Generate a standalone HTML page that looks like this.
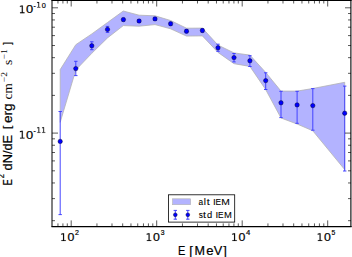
<!DOCTYPE html>
<html><head><meta charset="utf-8"><style>
html,body{margin:0;padding:0;background:#fff;width:352px;height:257px;overflow:hidden}
svg{display:block}
</style></head><body>
<svg width="352" height="257" viewBox="0 0 352 257">
<polygon points="60.2,69.6 75.8,44.7 91.8,33.9 107.5,22.5 123.3,11.0 139.1,15.2 155.0,15.8 170.6,20.5 186.5,28.2 202.4,28.1 218.0,45.1 234.0,52.9 249.9,55.1 265.7,72.4 281.0,91.1 297.1,91.1 312.8,88.5 344.7,82.3 344.7,169.6 312.8,130.8 297.1,124.0 281.0,118.0 265.7,89.6 249.9,66.4 234.0,63.7 218.0,52.4 202.4,35.9 186.5,36.1 170.6,28.8 155.0,24.6 139.1,26.2 123.3,25.6 107.5,37.9 91.8,53.3 75.8,70.0 60.2,122.3" fill="#b3b3ff" stroke="#b2b2b2" stroke-width="0.8" stroke-linejoin="round"/>
<path d="M60.20 111.50V214.60M58.50 111.50H61.90M58.50 214.60H61.90" stroke="#3c3cff" stroke-width="0.95" fill="none"/>
<path d="M75.80 61.30V75.60M74.10 61.30H77.50M74.10 75.60H77.50" stroke="#3c3cff" stroke-width="0.95" fill="none"/>
<path d="M91.80 41.80V49.70M90.10 41.80H93.50M90.10 49.70H93.50" stroke="#3c3cff" stroke-width="0.95" fill="none"/>
<path d="M107.50 26.40V32.40M105.80 26.40H109.20M105.80 32.40H109.20" stroke="#3c3cff" stroke-width="0.95" fill="none"/>
<path d="M123.40 18.00V21.20M121.70 18.00H125.10M121.70 21.20H125.10" stroke="#3c3cff" stroke-width="0.95" fill="none"/>
<path d="M139.10 19.50V22.50M137.40 19.50H140.80M137.40 22.50H140.80" stroke="#3c3cff" stroke-width="0.95" fill="none"/>
<path d="M155.00 17.40V20.40M153.30 17.40H156.70M153.30 20.40H156.70" stroke="#3c3cff" stroke-width="0.95" fill="none"/>
<path d="M170.60 22.30V25.30M168.90 22.30H172.30M168.90 25.30H172.30" stroke="#3c3cff" stroke-width="0.95" fill="none"/>
<path d="M186.50 29.60V32.80M184.80 29.60H188.20M184.80 32.80H188.20" stroke="#3c3cff" stroke-width="0.95" fill="none"/>
<path d="M202.40 28.90V32.10M200.70 28.90H204.10M200.70 32.10H204.10" stroke="#3c3cff" stroke-width="0.95" fill="none"/>
<path d="M218.00 44.20V51.30M216.30 44.20H219.70M216.30 51.30H219.70" stroke="#3c3cff" stroke-width="0.95" fill="none"/>
<path d="M234.00 53.50V61.90M232.30 53.50H235.70M232.30 61.90H235.70" stroke="#3c3cff" stroke-width="0.95" fill="none"/>
<path d="M249.90 55.70V66.50M248.20 55.70H251.60M248.20 66.50H251.60" stroke="#3c3cff" stroke-width="0.95" fill="none"/>
<path d="M265.70 72.80V89.50M264.00 72.80H267.40M264.00 89.50H267.40" stroke="#3c3cff" stroke-width="0.95" fill="none"/>
<path d="M281.00 91.30V117.60M279.30 91.30H282.70M279.30 117.60H282.70" stroke="#3c3cff" stroke-width="0.95" fill="none"/>
<path d="M297.10 91.30V123.30M295.40 91.30H298.80M295.40 123.30H298.80" stroke="#3c3cff" stroke-width="0.95" fill="none"/>
<path d="M312.80 88.60V130.20M311.10 88.60H314.50M311.10 130.20H314.50" stroke="#3c3cff" stroke-width="0.95" fill="none"/>
<path d="M344.70 86.10V171.00M343.00 86.10H346.40M343.00 171.00H346.40" stroke="#3c3cff" stroke-width="0.95" fill="none"/>
<circle cx="60.2" cy="141.4" r="2.2" fill="#0000ff" stroke="#000" stroke-width="0.4"/>
<circle cx="75.8" cy="68.6" r="2.2" fill="#0000ff" stroke="#000" stroke-width="0.4"/>
<circle cx="91.8" cy="45.8" r="2.2" fill="#0000ff" stroke="#000" stroke-width="0.4"/>
<circle cx="107.5" cy="29.4" r="2.2" fill="#0000ff" stroke="#000" stroke-width="0.4"/>
<circle cx="123.4" cy="19.6" r="2.2" fill="#0000ff" stroke="#000" stroke-width="0.4"/>
<circle cx="139.1" cy="21.0" r="2.2" fill="#0000ff" stroke="#000" stroke-width="0.4"/>
<circle cx="155.0" cy="18.9" r="2.2" fill="#0000ff" stroke="#000" stroke-width="0.4"/>
<circle cx="170.6" cy="23.8" r="2.2" fill="#0000ff" stroke="#000" stroke-width="0.4"/>
<circle cx="186.5" cy="31.2" r="2.2" fill="#0000ff" stroke="#000" stroke-width="0.4"/>
<circle cx="202.4" cy="30.5" r="2.2" fill="#0000ff" stroke="#000" stroke-width="0.4"/>
<circle cx="218.0" cy="47.8" r="2.2" fill="#0000ff" stroke="#000" stroke-width="0.4"/>
<circle cx="234.0" cy="57.6" r="2.2" fill="#0000ff" stroke="#000" stroke-width="0.4"/>
<circle cx="249.9" cy="60.8" r="2.2" fill="#0000ff" stroke="#000" stroke-width="0.4"/>
<circle cx="265.7" cy="80.6" r="2.2" fill="#0000ff" stroke="#000" stroke-width="0.4"/>
<circle cx="281.0" cy="102.8" r="2.2" fill="#0000ff" stroke="#000" stroke-width="0.4"/>
<circle cx="297.1" cy="104.9" r="2.2" fill="#0000ff" stroke="#000" stroke-width="0.4"/>
<circle cx="312.8" cy="105.6" r="2.2" fill="#0000ff" stroke="#000" stroke-width="0.4"/>
<circle cx="344.7" cy="113.2" r="2.2" fill="#0000ff" stroke="#000" stroke-width="0.4"/>
<path d="M57.96 226.40V223.40M57.96 0.50V3.50M62.91 226.40V223.40M62.91 0.50V3.50M67.29 226.40V223.40M67.29 0.50V3.50M71.20 226.40V220.40M71.20 0.50V6.50M96.94 226.40V223.40M96.94 0.50V3.50M111.99 226.40V223.40M111.99 0.50V3.50M122.68 226.40V223.40M122.68 0.50V3.50M130.96 226.40V223.40M130.96 0.50V3.50M137.73 226.40V223.40M137.73 0.50V3.50M143.46 226.40V223.40M143.46 0.50V3.50M148.41 226.40V223.40M148.41 0.50V3.50M152.79 226.40V223.40M152.79 0.50V3.50M156.70 226.40V220.40M156.70 0.50V6.50M182.44 226.40V223.40M182.44 0.50V3.50M197.49 226.40V223.40M197.49 0.50V3.50M208.18 226.40V223.40M208.18 0.50V3.50M216.46 226.40V223.40M216.46 0.50V3.50M223.23 226.40V223.40M223.23 0.50V3.50M228.96 226.40V223.40M228.96 0.50V3.50M233.91 226.40V223.40M233.91 0.50V3.50M238.29 226.40V223.40M238.29 0.50V3.50M242.20 226.40V220.40M242.20 0.50V6.50M267.94 226.40V223.40M267.94 0.50V3.50M282.99 226.40V223.40M282.99 0.50V3.50M293.68 226.40V223.40M293.68 0.50V3.50M301.96 226.40V223.40M301.96 0.50V3.50M308.73 226.40V223.40M308.73 0.50V3.50M314.46 226.40V223.40M314.46 0.50V3.50M319.41 226.40V223.40M319.41 0.50V3.50M323.79 226.40V223.40M323.79 0.50V3.50M327.70 226.40V220.40M327.70 0.50V6.50M52.00 220.68H55.00M351.00 220.68H348.00M52.00 198.62H55.00M351.00 198.62H348.00M52.00 182.96H55.00M351.00 182.96H348.00M52.00 170.82H55.00M351.00 170.82H348.00M52.00 160.90H55.00M351.00 160.90H348.00M52.00 152.51H55.00M351.00 152.51H348.00M52.00 145.24H55.00M351.00 145.24H348.00M52.00 138.83H55.00M351.00 138.83H348.00M52.00 133.10H58.00M351.00 133.10H345.00M52.00 95.38H55.00M351.00 95.38H348.00M52.00 73.32H55.00M351.00 73.32H348.00M52.00 57.66H55.00M351.00 57.66H348.00M52.00 45.52H55.00M351.00 45.52H348.00M52.00 35.60H55.00M351.00 35.60H348.00M52.00 27.21H55.00M351.00 27.21H348.00M52.00 19.94H55.00M351.00 19.94H348.00M52.00 13.53H55.00M351.00 13.53H348.00M52.00 7.80H58.00M351.00 7.80H345.00" stroke="#000" stroke-width="0.65" fill="none"/>
<path d="M52.00 0V226.90" stroke="#000" stroke-width="1.0" fill="none"/>
<path d="M350.90 0V226.90" stroke="#000" stroke-width="1.1" fill="none"/>
<path d="M51.50 0.50H351.60" stroke="#000" stroke-width="1.1" fill="none"/>
<path d="M51.50 226.55H351.60" stroke="#000" stroke-width="1.15" fill="none"/>
<path d="M61.36 240.13 L63.06 240.13 L63.06 234.27 L61.21 234.64 L61.21 233.70 L63.05 233.33 L64.09 233.33 L64.09 240.13 L65.79 240.13 L65.79 241.00 L61.36 241.00Z" fill="#000" stroke="#000" stroke-width="0.12"/>
<text transform="translate(67.42,241.00) scale(1.102,1)" style="font-family:'Liberation Sans',sans-serif;stroke:#000;stroke-width:0.2;font-size:11.2px">0</text>
<text transform="translate(75.05,234.70) scale(0.878,1)" style="font-family:'Liberation Sans',sans-serif;stroke:#000;stroke-width:0.2;font-size:8.0px">2</text>
<path d="M146.86 240.13 L148.56 240.13 L148.56 234.27 L146.71 234.64 L146.71 233.70 L148.55 233.33 L149.59 233.33 L149.59 240.13 L151.29 240.13 L151.29 241.00 L146.86 241.00Z" fill="#000" stroke="#000" stroke-width="0.12"/>
<text transform="translate(152.92,241.00) scale(1.102,1)" style="font-family:'Liberation Sans',sans-serif;stroke:#000;stroke-width:0.2;font-size:11.2px">0</text>
<text transform="translate(160.63,234.70) scale(0.850,1)" style="font-family:'Liberation Sans',sans-serif;stroke:#000;stroke-width:0.2;font-size:8.0px">3</text>
<path d="M232.36 240.13 L234.06 240.13 L234.06 234.27 L232.21 234.64 L232.21 233.70 L234.05 233.33 L235.09 233.33 L235.09 240.13 L236.79 240.13 L236.79 241.00 L232.36 241.00Z" fill="#000" stroke="#000" stroke-width="0.12"/>
<text transform="translate(238.42,241.00) scale(1.102,1)" style="font-family:'Liberation Sans',sans-serif;stroke:#000;stroke-width:0.2;font-size:11.2px">0</text>
<text transform="translate(246.12,234.70) scale(0.967,1)" style="font-family:'Liberation Sans',sans-serif;stroke:#000;stroke-width:0.2;font-size:8.0px">4</text>
<path d="M317.86 240.13 L319.56 240.13 L319.56 234.27 L317.71 234.64 L317.71 233.70 L319.55 233.33 L320.59 233.33 L320.59 240.13 L322.29 240.13 L322.29 241.00 L317.86 241.00Z" fill="#000" stroke="#000" stroke-width="0.12"/>
<text transform="translate(323.92,241.00) scale(1.102,1)" style="font-family:'Liberation Sans',sans-serif;stroke:#000;stroke-width:0.2;font-size:11.2px">0</text>
<text transform="translate(331.62,234.70) scale(0.850,1)" style="font-family:'Liberation Sans',sans-serif;stroke:#000;stroke-width:0.2;font-size:8.0px">5</text>
<path d="M20.06 12.33 L21.76 12.33 L21.76 6.47 L19.91 6.84 L19.91 5.90 L21.75 5.53 L22.79 5.53 L22.79 12.33 L24.49 12.33 L24.49 13.20 L20.06 13.20Z" fill="#000" stroke="#000" stroke-width="0.12"/>
<text transform="translate(25.92,13.20) scale(1.150,1)" style="font-family:'Liberation Sans',sans-serif;stroke:#000;stroke-width:0.2;font-size:11.2px">0</text>
<text transform="translate(33.52,7.50) scale(0.850,1)" style="font-family:'Liberation Sans',sans-serif;stroke:#000;stroke-width:0.2;font-size:8.0px">-</text>
<path d="M37.17 6.88 L38.39 6.88 L38.39 2.69 L37.07 2.96 L37.07 2.28 L38.38 2.02 L39.12 2.02 L39.12 6.88 L40.33 6.88 L40.33 7.50 L37.17 7.50Z" fill="#000" stroke="#000" stroke-width="0.12"/>
<text transform="translate(41.81,7.50) scale(0.915,1)" style="font-family:'Liberation Sans',sans-serif;stroke:#000;stroke-width:0.2;font-size:8.0px">0</text>
<path d="M20.06 137.63 L21.76 137.63 L21.76 131.77 L19.91 132.14 L19.91 131.20 L21.75 130.83 L22.79 130.83 L22.79 137.63 L24.49 137.63 L24.49 138.50 L20.06 138.50Z" fill="#000" stroke="#000" stroke-width="0.12"/>
<text transform="translate(25.92,138.50) scale(1.150,1)" style="font-family:'Liberation Sans',sans-serif;stroke:#000;stroke-width:0.2;font-size:11.2px">0</text>
<text transform="translate(33.52,132.80) scale(0.850,1)" style="font-family:'Liberation Sans',sans-serif;stroke:#000;stroke-width:0.2;font-size:8.0px">-</text>
<path d="M37.27 132.18 L38.49 132.18 L38.49 127.99 L37.17 128.26 L37.17 127.58 L38.48 127.32 L39.22 127.32 L39.22 132.18 L40.43 132.18 L40.43 132.80 L37.27 132.80Z" fill="#000" stroke="#000" stroke-width="0.12"/>
<path d="M42.12 132.18 L43.34 132.18 L43.34 127.99 L42.02 128.26 L42.02 127.58 L43.33 127.32 L44.07 127.32 L44.07 132.18 L45.28 132.18 L45.28 132.80 L42.12 132.80Z" fill="#000" stroke="#000" stroke-width="0.12"/>
<text transform="translate(177.90,254.90) scale(0.850,1)" style="font-family:'Liberation Sans',sans-serif;stroke:#000;stroke-width:0.2;font-size:13.0px">E</text>
<text transform="translate(189.13,254.90) scale(1.000,1)" style="font-family:'Liberation Sans',sans-serif;stroke:#000;stroke-width:0.2;font-size:13.0px">[</text>
<text transform="translate(194.47,254.90) scale(0.966,1)" style="font-family:'Liberation Sans',sans-serif;stroke:#000;stroke-width:0.2;font-size:13.0px">M</text>
<text transform="translate(206.14,254.90) scale(1.016,1)" style="font-family:'Liberation Sans',sans-serif;stroke:#000;stroke-width:0.2;font-size:13.0px">e</text>
<text transform="translate(213.84,254.90) scale(0.982,1)" style="font-family:'Liberation Sans',sans-serif;stroke:#000;stroke-width:0.2;font-size:13.0px">V</text>
<text transform="translate(223.31,254.90) scale(1.000,1)" style="font-family:'Liberation Sans',sans-serif;stroke:#000;stroke-width:0.2;font-size:13.0px">]</text>
<text transform="translate(12.10,185.50) rotate(-90)" style="font-family:'Liberation Sans',sans-serif;stroke:#000;stroke-width:0.2;font-size:12.0px" textLength="6.40" lengthAdjust="spacingAndGlyphs">E</text>
<text transform="translate(3.90,178.30) rotate(-90)" style="font-family:'Liberation Sans',sans-serif;stroke:#000;stroke-width:0.2;font-size:8.4px" textLength="4.20" lengthAdjust="spacingAndGlyphs">2</text>
<text transform="translate(12.10,170.40) rotate(-90)" style="font-family:'Liberation Sans',sans-serif;stroke:#000;stroke-width:0.2;font-size:12.0px" textLength="35.50" lengthAdjust="spacingAndGlyphs">dN/dE</text>
<text transform="translate(11.40,129.10) rotate(-90)" style="font-family:'Liberation Sans',sans-serif;stroke:#000;stroke-width:0.2;font-size:11.5px" textLength="3.30" lengthAdjust="spacingAndGlyphs">[</text>
<text transform="translate(12.10,123.10) rotate(-90)" style="font-family:'Liberation Sans',sans-serif;stroke:#000;stroke-width:0.2;font-size:12.0px" textLength="19.60" lengthAdjust="spacingAndGlyphs">erg</text>
<text transform="translate(12.10,99.40) rotate(-90)" style="font-family:'Liberation Serif',serif;font-size:12.0px" textLength="16.10" lengthAdjust="spacingAndGlyphs">cm</text>
<text transform="translate(6.60,82.10) rotate(-90)" style="font-family:'Liberation Serif',serif;font-size:8.4px" textLength="10.10" lengthAdjust="spacingAndGlyphs">−2</text>
<text transform="translate(12.10,64.90) rotate(-90)" style="font-family:'Liberation Serif',serif;font-size:12.0px" textLength="5.30" lengthAdjust="spacingAndGlyphs">s</text>
<text transform="translate(6.60,59.00) rotate(-90)" style="font-family:'Liberation Serif',serif;font-size:8.4px" textLength="9.90" lengthAdjust="spacingAndGlyphs">−1</text>
<text transform="translate(11.40,44.70) rotate(-90)" style="font-family:'Liberation Sans',sans-serif;stroke:#000;stroke-width:0.2;font-size:11.5px" textLength="2.60" lengthAdjust="spacingAndGlyphs">]</text>
<rect x="168.5" y="194.8" width="66.2" height="27.3" fill="#fff" stroke="#000" stroke-width="0.8"/>
<rect x="172.6" y="198.8" width="18" height="5.9" fill="#b3b3ff" stroke="#b2b2b2" stroke-width="0.6"/>
<path d="M175.30 210.4V219.2M173.60 210.4H177.00M173.60 219.2H177.00" stroke="#3c3cff" stroke-width="0.95" fill="none"/>
<circle cx="175.3" cy="214.8" r="1.9" fill="#0000ff" stroke="#000" stroke-width="0.4"/>
<path d="M187.80 210.4V219.2M186.10 210.4H189.50M186.10 219.2H189.50" stroke="#3c3cff" stroke-width="0.95" fill="none"/>
<circle cx="187.8" cy="214.8" r="1.9" fill="#0000ff" stroke="#000" stroke-width="0.4"/>
<text transform="translate(198.46,204.60) scale(0.850,1)" style="font-family:'Liberation Sans',sans-serif;stroke:#000;stroke-width:0.08;font-size:9.8px">a</text>
<text transform="translate(203.71,204.60) scale(1.000,1)" style="font-family:'Liberation Sans',sans-serif;stroke:#000;stroke-width:0.08;font-size:9.8px">l</text>
<text transform="translate(206.64,204.60) scale(1.079,1)" style="font-family:'Liberation Sans',sans-serif;stroke:#000;stroke-width:0.08;font-size:9.8px">t</text>
<text transform="translate(212.99,204.60) scale(1.000,1)" style="font-family:'Liberation Sans',sans-serif;stroke:#000;stroke-width:0.08;font-size:9.8px">I</text>
<text transform="translate(215.46,204.60) scale(0.850,1)" style="font-family:'Liberation Sans',sans-serif;stroke:#000;stroke-width:0.08;font-size:9.8px">E</text>
<text transform="translate(221.15,204.60) scale(1.053,1)" style="font-family:'Liberation Sans',sans-serif;stroke:#000;stroke-width:0.08;font-size:9.8px">M</text>
<text transform="translate(198.65,217.60) scale(0.850,1)" style="font-family:'Liberation Sans',sans-serif;stroke:#000;stroke-width:0.08;font-size:9.8px">s</text>
<text transform="translate(203.04,217.60) scale(1.079,1)" style="font-family:'Liberation Sans',sans-serif;stroke:#000;stroke-width:0.08;font-size:9.8px">t</text>
<text transform="translate(206.91,217.60) scale(0.953,1)" style="font-family:'Liberation Sans',sans-serif;stroke:#000;stroke-width:0.08;font-size:9.8px">d</text>
<text transform="translate(215.49,217.60) scale(1.000,1)" style="font-family:'Liberation Sans',sans-serif;stroke:#000;stroke-width:0.08;font-size:9.8px">I</text>
<text transform="translate(217.96,217.60) scale(0.850,1)" style="font-family:'Liberation Sans',sans-serif;stroke:#000;stroke-width:0.08;font-size:9.8px">E</text>
<text transform="translate(224.03,217.60) scale(0.961,1)" style="font-family:'Liberation Sans',sans-serif;stroke:#000;stroke-width:0.08;font-size:9.8px">M</text>
</svg>
</body></html>
